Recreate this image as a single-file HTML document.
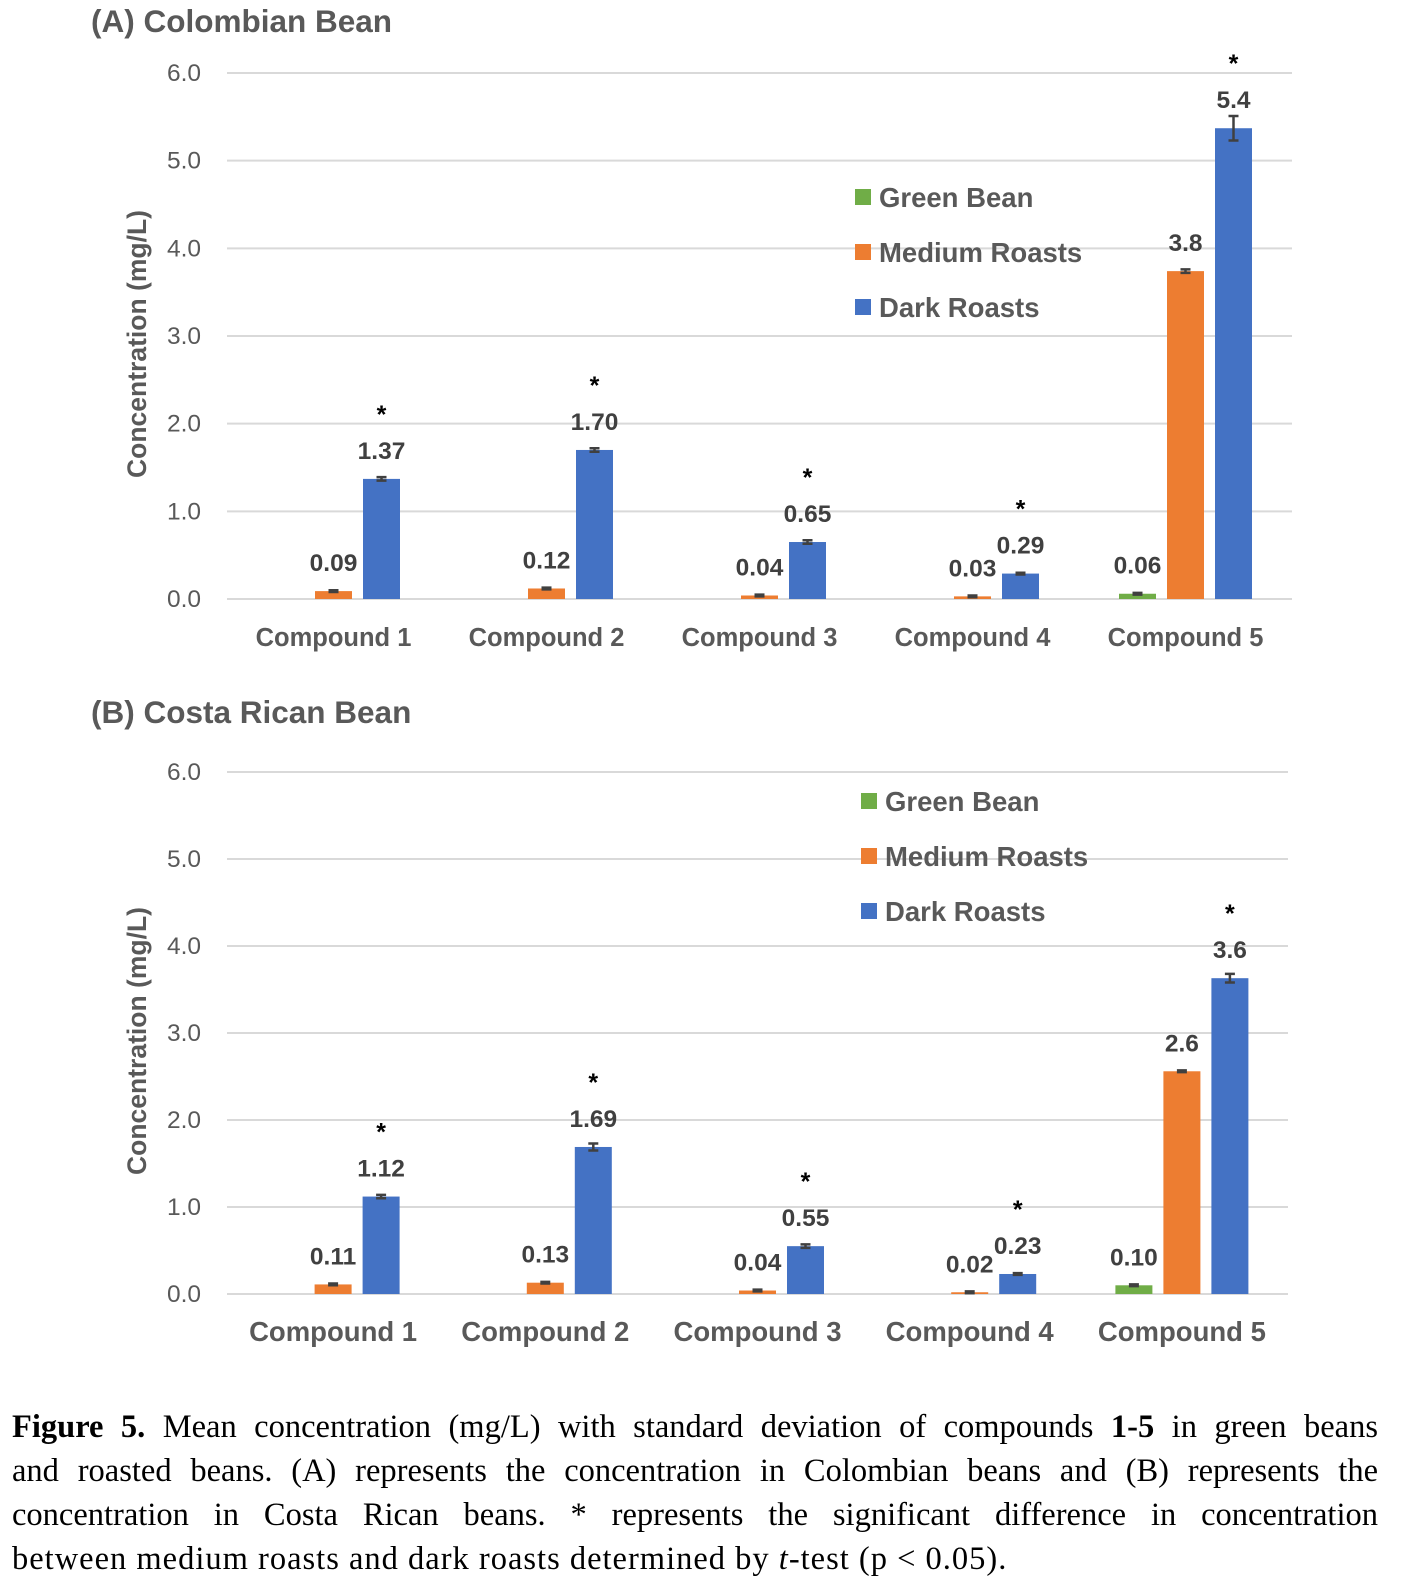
<!DOCTYPE html>
<html><head><meta charset="utf-8">
<style>
html,body{margin:0;padding:0;background:#fff;}
body{width:1402px;height:1584px;position:relative;overflow:hidden;}
svg{position:absolute;left:0;top:0;}
.cap{position:absolute;left:12px;top:1405px;width:1366px;font-family:"Liberation Serif",serif;font-size:32.5px;line-height:44px;color:#000;}
.ln{text-align:justify;text-align-last:justify;white-space:nowrap;}
.ln.last{text-align-last:left;letter-spacing:1px;}
</style></head>
<body>
<svg id="fig" width="1402" height="1390" font-family="Liberation Sans, sans-serif"></svg>
<div class="cap">
<div class="ln"><b>Figure 5.</b> Mean concentration (mg/L) with standard deviation of compounds <b>1-5</b> in green beans</div>
<div class="ln">and roasted beans. (A) represents the concentration in Colombian beans and (B) represents the</div>
<div class="ln">concentration in Costa Rican beans. * represents the significant difference in concentration</div>
<div class="ln last">between medium roasts and dark roasts determined by <i>t</i>-test (p &lt; 0.05).</div>
</div>
<script>
const categories = ["Compound 1","Compound 2","Compound 3","Compound 4","Compound 5"];
const seriesNames = ["Green Bean","Medium Roasts","Dark Roasts"];
const yTicks = [0,1,2,3,4,5,6];
const yTickLabels = ["0.0","1.0","2.0","3.0","4.0","5.0","6.0"];
// Chart A: Colombian
const aGreen = [0,0,0,0,0.06];
const aMedium = [0.09,0.12,0.04,0.03,3.74];
const aDark = [1.37,1.70,0.65,0.29,5.37];
const aGreenErr = [0,0,0,0,0.01];
const aMediumErr = [0.01,0.01,0.01,0.01,0.02];
const aDarkErr = [0.02,0.02,0.02,0.01,0.14];
const aGreenLabels = ["","","","","0.06"];
const aMediumLabels = ["0.09","0.12","0.04","0.03","3.8"];
const aDarkLabels = ["1.37","1.70","0.65","0.29","5.4"];
const aSignificant = [true,true,true,true,true];
// Chart B: Costa Rican
const bGreen = [0,0,0,0,0.10];
const bMedium = [0.11,0.13,0.04,0.02,2.56];
const bDark = [1.12,1.69,0.55,0.23,3.63];
const bGreenErr = [0,0,0,0,0.01];
const bMediumErr = [0.01,0.01,0.01,0.01,0.01];
const bDarkErr = [0.02,0.04,0.02,0.01,0.05];
const bGreenLabels = ["","","","","0.10"];
const bMediumLabels = ["0.11","0.13","0.04","0.02","2.6"];
const bDarkLabels = ["1.12","1.69","0.55","0.23","3.6"];
const bSignificant = [true,true,true,true,true];

const NS="http://www.w3.org/2000/svg";
const svg=document.getElementById('fig');
const colors=["#70ad47","#ed7d31","#4472c4"];
function mk(tag,attrs,parent){const e=document.createElementNS(NS,tag);for(const k in attrs)e.setAttribute(k,attrs[k]);(parent||svg).appendChild(e);return e;}

function drawChart(cfg){
  const g=mk('g',{});
  
  
  const yScale=v=>cfg.y0-(v/6)*(cfg.y0-cfg.y6);
  const bandW=(cfg.x1-cfg.x0)/categories.length;
  const xCenter=i=>cfg.x0+bandW*(i+0.5);
  const t=mk('text',{x:91,y:cfg.titleY,'font-size':31.5,'font-weight':'bold',fill:'#595959'},g);
  t.textContent=cfg.title;
  
  
  yTicks.forEach((v,i)=>{
    const l=mk('line',{x1:cfg.x0,x2:cfg.x1,y1:yScale(v),y2:yScale(v),stroke:'#d9d9d9','stroke-width':2},g);
    
    
    const tl=mk('text',{x:201,y:yScale(v)+8,'font-size':24.5,fill:'#595959','text-anchor':'end'},g);
    tl.textContent=yTickLabels[i];
    
    
  });
  const mid=(cfg.y0+cfg.y6)/2+8;
  const yt=mk('text',{x:0,y:0,'font-size':26.5,'font-weight':'bold',fill:'#595959','text-anchor':'middle',transform:`translate(146,${mid}) rotate(-90)`},g);
  yt.textContent='Concentration (mg/L)';
  
  
  const series=[cfg.green,cfg.medium,cfg.dark];
  const errs=[cfg.greenErr,cfg.mediumErr,cfg.darkErr];
  const labels=[cfg.greenLabels,cfg.mediumLabels,cfg.darkLabels];
  const bw=37, step=48;
  categories.forEach((c,i)=>{
    const cx=xCenter(i);
    series.forEach((s,k)=>{
      const v=s[i]; const bx=cx+(k-1)*step-bw/2;
      if(v>0){
        const r=mk('rect',{x:bx,y:yScale(v),width:bw,height:yScale(0)-yScale(v),fill:colors[k]},g);
        
        
        const e=errs[k][i];
        const ex=bx+bw/2;
        const eb=mk('path',{d:`M${ex},${yScale(v+e)}V${yScale(v-e)}M${ex-5},${yScale(v+e)}H${ex+5}M${ex-5},${yScale(v-e)}H${ex+5}`,stroke:'#404040','stroke-width':2.5,fill:'none'},g);
        
        
      }
      if(labels[k][i]){
        const lt=mk('text',{x:bx+bw/2,y:yScale(v)-20,'font-size':24.5,'font-weight':'bold',fill:'#404040','text-anchor':'middle'},g);
        lt.textContent=labels[k][i];
        
        
      }
      if(k===2 && cfg.sig[i]){
        const st=mk('text',{x:bx+bw/2,y:yScale(v)-56,'font-size':25,'font-weight':'bold',fill:'#000','text-anchor':'middle'},g);
        st.textContent='*';
        
        
      }
    });
    const xl=mk('text',{x:cx,y:cfg.y0+47,'font-size':cfg.xfs,'font-weight':'bold',fill:'#595959','text-anchor':'middle'},g);
    xl.textContent=c;
    
    
  });
  seriesNames.forEach((n,k)=>{
    const ly=cfg.legY+k*cfg.legStep;
    const sq=mk('rect',{x:cfg.legX,y:ly-8,width:16,height:16,fill:colors[k]},g);
    
    
    const lt=mk('text',{x:cfg.legX+24,y:ly+10,'font-size':27.5,'font-weight':'bold',fill:'#595959'},g);
    lt.textContent=n;
    
    
  });
}
drawChart({name:'chart-colombian',title:'(A) Colombian Bean',titleY:32,x0:227,x1:1292,y0:599,y6:73,
  green:aGreen,medium:aMedium,dark:aDark,greenErr:aGreenErr,mediumErr:aMediumErr,darkErr:aDarkErr,
  greenLabels:aGreenLabels,mediumLabels:aMediumLabels,darkLabels:aDarkLabels,sig:aSignificant,
  legX:855,legY:197,legStep:55,xfs:25.5});
drawChart({name:'chart-costa-rican',title:'(B) Costa Rican Bean',titleY:723,x0:227,x1:1288,y0:1294,y6:772,
  green:bGreen,medium:bMedium,dark:bDark,greenErr:bGreenErr,mediumErr:bMediumErr,darkErr:bDarkErr,
  greenLabels:bGreenLabels,mediumLabels:bMediumLabels,darkLabels:bDarkLabels,sig:bSignificant,
  legX:861,legY:801,legStep:55,xfs:27.5});
</script>
</body></html>
